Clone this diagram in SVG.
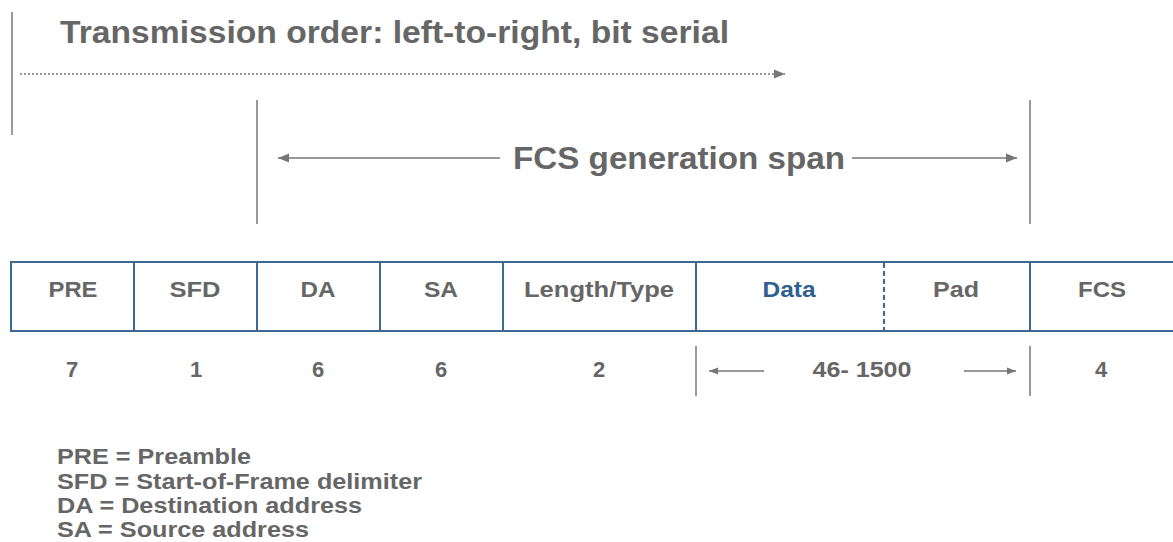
<svg xmlns="http://www.w3.org/2000/svg" width="1173" height="542" viewBox="0 0 1173 542">
<defs>
<style>
.t{font-family:"Liberation Sans",Arial,sans-serif;font-weight:bold;fill:#666}
.big{font-size:31px}
.cell{font-size:22px;text-anchor:middle}
.leg{font-size:22px}
.ln{stroke:#777;stroke-width:1.5;fill:none}
.box{fill:#fff;stroke:#3c6a94;stroke-width:2}
</style>
<marker id="ah" viewBox="0 0 10 10" refX="10" refY="5" markerWidth="11" markerHeight="11" markerUnits="userSpaceOnUse" orient="auto-start-reverse"><path d="M0,1 L10,5 L0,9 Z" fill="#777"/></marker>
<marker id="ahs" viewBox="0 0 10 10" refX="10" refY="5" markerWidth="11" markerHeight="9" markerUnits="userSpaceOnUse" orient="auto-start-reverse"><path d="M0,1 L10,5 L0,9 Z" fill="#777"/></marker>
</defs>
<rect width="1173" height="542" fill="#fff"/>
<g id="connectors">
<line class="ln" x1="12" y1="12" x2="12" y2="135"/>
<line x1="20" y1="74" x2="785" y2="74" stroke="#777" stroke-width="1.5" stroke-dasharray="2,2" marker-end="url(#ah)"/>
<line class="ln" x1="257" y1="100" x2="257" y2="224"/>
<line class="ln" x1="1030" y1="100" x2="1030" y2="224"/>
<line class="ln" x1="278" y1="158" x2="500" y2="158" stroke-width="2" marker-start="url(#ah)"/>
<line class="ln" x1="852" y1="158" x2="1017" y2="158" stroke-width="2" marker-end="url(#ah)"/>
<line class="ln" x1="696" y1="346" x2="696" y2="396"/>
<line class="ln" x1="1030" y1="346" x2="1030" y2="396"/>
<line class="ln" x1="709" y1="371" x2="764" y2="371" marker-start="url(#ahs)"/>
<line class="ln" x1="964" y1="371" x2="1016" y2="371" marker-end="url(#ahs)"/>
</g>
<g id="title"><text class="t big" x="60" y="43" textLength="669" lengthAdjust="spacingAndGlyphs">Transmission order: left-to-right, bit serial</text></g>
<g id="fcs-span"><text class="t big" x="513" y="169" textLength="332" lengthAdjust="spacingAndGlyphs">FCS generation span</text></g>
<g id="frame">
<rect class="box" x="11" y="262" width="1163" height="69"/>
<g stroke="#3c6a94" stroke-width="2">
<line x1="134" y1="262" x2="134" y2="331"/>
<line x1="257" y1="262" x2="257" y2="331"/>
<line x1="380" y1="262" x2="380" y2="331"/>
<line x1="503" y1="262" x2="503" y2="331"/>
<line x1="696" y1="262" x2="696" y2="331"/>
<line x1="884" y1="263" x2="884" y2="330" stroke-dasharray="5,3"/>
<line x1="1030" y1="262" x2="1030" y2="331"/>
</g>
</g>
<g id="cell-PRE"><text class="t cell" x="73" y="297" textLength="49" lengthAdjust="spacingAndGlyphs">PRE</text><text class="t cell" x="72" y="377">7</text></g>
<g id="cell-SFD"><text class="t cell" x="195" y="297" textLength="51" lengthAdjust="spacingAndGlyphs">SFD</text><text class="t cell" x="196" y="377">1</text></g>
<g id="cell-DA"><text class="t cell" x="318" y="297" textLength="35" lengthAdjust="spacingAndGlyphs">DA</text><text class="t cell" x="318" y="377">6</text></g>
<g id="cell-SA"><text class="t cell" x="441" y="297" textLength="34" lengthAdjust="spacingAndGlyphs">SA</text><text class="t cell" x="441" y="377">6</text></g>
<g id="cell-LT"><text class="t cell" x="599" y="297" textLength="150" lengthAdjust="spacingAndGlyphs">Length/Type</text><text class="t cell" x="599" y="377">2</text></g>
<g id="cell-Data"><text class="t cell" x="789" y="297" textLength="53" lengthAdjust="spacingAndGlyphs" style="fill:#2f5f8f">Data</text></g>
<g id="cell-Pad"><text class="t cell" x="956" y="297" textLength="46" lengthAdjust="spacingAndGlyphs">Pad</text></g>
<g id="size-data"><text class="t cell" x="862" y="377" textLength="99" lengthAdjust="spacingAndGlyphs">46- 1500</text></g>
<g id="cell-FCS"><text class="t cell" x="1102" y="297" textLength="48" lengthAdjust="spacingAndGlyphs">FCS</text><text class="t cell" x="1101" y="377">4</text></g>
<g id="legend">
<text class="t leg" x="57" y="464" textLength="194" lengthAdjust="spacingAndGlyphs">PRE = Preamble</text>
<text class="t leg" x="57" y="489" textLength="365" lengthAdjust="spacingAndGlyphs">SFD = Start-of-Frame delimiter</text>
<text class="t leg" x="57" y="513" textLength="305" lengthAdjust="spacingAndGlyphs">DA = Destination address</text>
<text class="t leg" x="57" y="537" textLength="252" lengthAdjust="spacingAndGlyphs">SA = Source address</text>
</g>
</svg>
